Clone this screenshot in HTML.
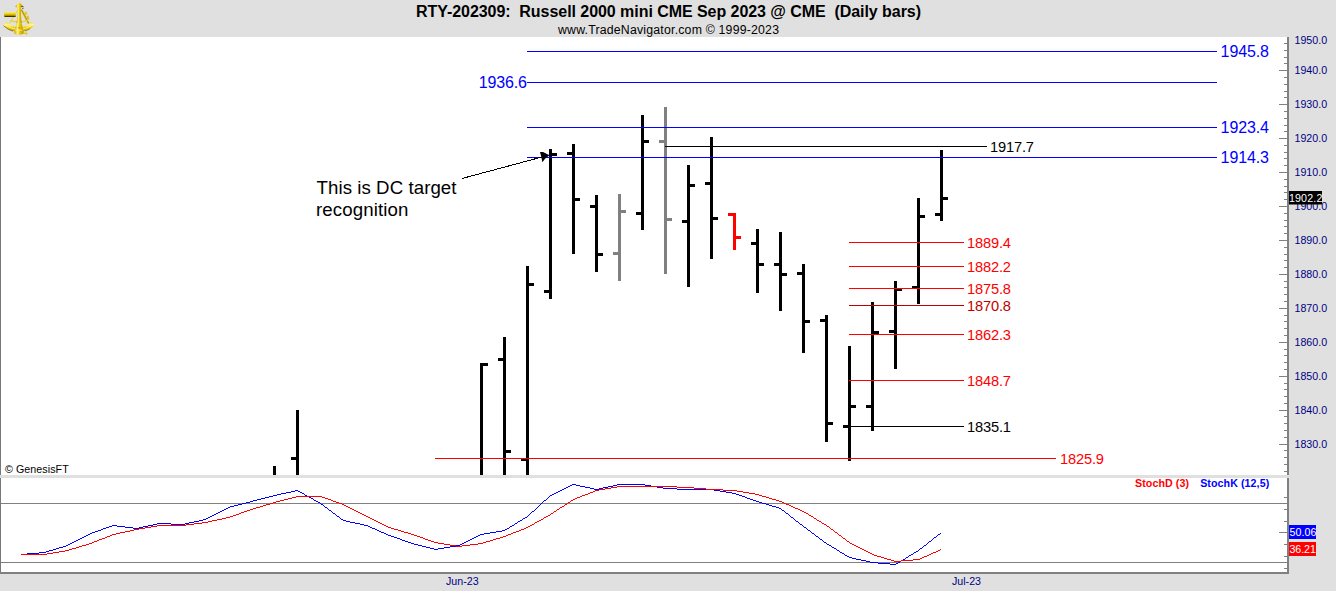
<!DOCTYPE html>
<html><head><meta charset="utf-8"><title>RTY-202309</title>
<style>
html,body{margin:0;padding:0;background:#E0E0E0;}
body{width:1336px;height:591px;overflow:hidden;position:relative;font-family:"Liberation Sans",sans-serif;}
svg{position:absolute;left:0;top:0;display:block;}
text{font-family:"Liberation Sans",sans-serif;}
</style></head><body>
<svg width="1336" height="591" viewBox="0 0 1336 591">
<defs>
<linearGradient id="gold" x1="0" y1="0" x2="1" y2="0"><stop offset="0" stop-color="#C8A000"/><stop offset="0.35" stop-color="#FFF27A"/><stop offset="0.6" stop-color="#E6C400"/><stop offset="1" stop-color="#B89000"/></linearGradient>
<linearGradient id="goldv" x1="0" y1="0" x2="0" y2="1"><stop offset="0" stop-color="#FFF27A"/><stop offset="0.45" stop-color="#E8C800"/><stop offset="1" stop-color="#8A6A00"/></linearGradient>
<linearGradient id="arcg" x1="0" y1="0" x2="0" y2="1"><stop offset="0" stop-color="#F2DA30"/><stop offset="0.3" stop-color="#FFF48A"/><stop offset="0.6" stop-color="#E8C800"/><stop offset="1" stop-color="#C09800"/></linearGradient>
</defs>
<rect x="0" y="0" width="1336" height="591" fill="#E0E0E0"/>
<rect x="1" y="37" width="1286" height="438" fill="#fff"/>
<rect x="1" y="478" width="1286" height="94" fill="#fff"/>
<rect x="0" y="37" width="1" height="537" fill="#787878"/>
<rect x="1287" y="37" width="2" height="537" fill="#808080"/>
<rect x="0" y="572" width="1289" height="2" fill="#808080"/>
<rect x="0" y="475" width="1289" height="3" fill="#E0E0E0"/>
<g id="icon">
<!-- frame legs -->
<path d="M17.8 10 L9.6 23.2" stroke="#EDD540" stroke-width="1.2" fill="none"/>
<path d="M21.2 9.5 L28.6 23.6" stroke="#D8B800" stroke-width="1.7" fill="none"/>
<path d="M21.6 9.6 L28.9 23.2" stroke="#6A5200" stroke-width="0.5" fill="none" opacity="0.7"/>
<!-- cross brace -->
<path d="M10.4 20.6 Q19 23.4 27.8 20.4" stroke="#EBD030" stroke-width="1.3" fill="none"/>
<!-- index mirror bits -->
<path d="M24.2 12.2 L26.8 11.6 L27.4 14.6 L25.4 15.2 Z" fill="#E6C818"/>
<path d="M26.6 16.2 L28.6 15.6 L29.2 19.4 L27.4 19.8 Z" fill="#E2C210"/>
<!-- arc band -->
<path d="M3.2 25.3 L6.7 21.9 A17.6 17.6 0 0 0 31.3 21.9 L34.9 25.3 A22.2 22.2 0 0 1 3.2 25.3 Z" fill="url(#arcg)"/>
<path d="M5 23.8 A20.5 20.5 0 0 0 33 23.8" stroke="#FFF6A0" stroke-width="1.1" fill="none" opacity="0.8"/>
<path d="M3.6 25.8 A22 22 0 0 0 13 31.2" stroke="#5A4400" stroke-width="0.8" fill="none" opacity="0.75"/>
<path d="M25 31.2 A22 22 0 0 0 30 28.8" stroke="#6A5200" stroke-width="0.7" fill="none" opacity="0.6"/>
<!-- telescope -->
<rect x="4.1" y="11.9" width="11.6" height="5" rx="0.8" fill="url(#goldv)"/>
<rect x="4.6" y="15.9" width="11" height="1" fill="#2A1E00" opacity="0.85"/>
<!-- vertical arm -->
<path d="M17.9 7 L20.7 7 L21.1 17 L21.7 23.6 L16.5 23.6 L17.3 17 Z" fill="url(#gold)"/>
<!-- finial -->
<path d="M19.4 2.8 Q21.4 3.6 22.8 6 Q22.6 7.8 19.2 7.9 Q15.6 7.8 15.4 6.2 Q16.8 3.8 19.4 2.8 Z" fill="url(#gold)"/>
<path d="M21 6.2 L23.6 6.2 L23.6 7 L21.4 7 Z M22 8 L24 7.8 L23.6 8.6 L22 8.8 Z" fill="#2A1E00" opacity="0.8"/>
<!-- base -->
<path d="M16.4 23.4 L21.8 23.4 L23.9 33.5 Q19 36.2 14.2 33.5 Z" fill="url(#gold)"/>
<path d="M15.2 30.2 L22.8 30.2" stroke="#FFF6B0" stroke-width="0.9" opacity="0.7"/>
<ellipse cx="19" cy="27.8" rx="1.2" ry="0.5" fill="#8A6A00" opacity="0.7"/>
<!-- knob -->
<rect x="23.6" y="32.6" width="2.8" height="1.3" fill="#E0C010"/>
<rect x="26" y="32" width="1.2" height="2.9" rx="0.4" fill="#E6C818"/>
</g>
<g shape-rendering="crispEdges">
<rect x="1" y="503" width="1286" height="1" fill="#808080"/>
<rect x="1" y="562" width="1286" height="1" fill="#808080"/>
<rect x="1284" y="43" width="3" height="1" fill="#808080"/><rect x="1284" y="50" width="3" height="1" fill="#808080"/><rect x="1284" y="57" width="3" height="1" fill="#808080"/><rect x="1284" y="63" width="3" height="1" fill="#808080"/><rect x="1279" y="70" width="8" height="1" fill="#808080"/><rect x="1284" y="77" width="3" height="1" fill="#808080"/><rect x="1284" y="84" width="3" height="1" fill="#808080"/><rect x="1284" y="91" width="3" height="1" fill="#808080"/><rect x="1284" y="97" width="3" height="1" fill="#808080"/><rect x="1279" y="104" width="8" height="1" fill="#808080"/><rect x="1284" y="111" width="3" height="1" fill="#808080"/><rect x="1284" y="118" width="3" height="1" fill="#808080"/><rect x="1284" y="125" width="3" height="1" fill="#808080"/><rect x="1284" y="131" width="3" height="1" fill="#808080"/><rect x="1279" y="138" width="8" height="1" fill="#808080"/><rect x="1284" y="145" width="3" height="1" fill="#808080"/><rect x="1284" y="152" width="3" height="1" fill="#808080"/><rect x="1284" y="158" width="3" height="1" fill="#808080"/><rect x="1284" y="165" width="3" height="1" fill="#808080"/><rect x="1279" y="172" width="8" height="1" fill="#808080"/><rect x="1284" y="179" width="3" height="1" fill="#808080"/><rect x="1284" y="186" width="3" height="1" fill="#808080"/><rect x="1284" y="192" width="3" height="1" fill="#808080"/><rect x="1284" y="199" width="3" height="1" fill="#808080"/><rect x="1279" y="206" width="8" height="1" fill="#808080"/><rect x="1284" y="213" width="3" height="1" fill="#808080"/><rect x="1284" y="220" width="3" height="1" fill="#808080"/><rect x="1284" y="226" width="3" height="1" fill="#808080"/><rect x="1284" y="233" width="3" height="1" fill="#808080"/><rect x="1279" y="240" width="8" height="1" fill="#808080"/><rect x="1284" y="247" width="3" height="1" fill="#808080"/><rect x="1284" y="254" width="3" height="1" fill="#808080"/><rect x="1284" y="260" width="3" height="1" fill="#808080"/><rect x="1284" y="267" width="3" height="1" fill="#808080"/><rect x="1279" y="274" width="8" height="1" fill="#808080"/><rect x="1284" y="281" width="3" height="1" fill="#808080"/><rect x="1284" y="287" width="3" height="1" fill="#808080"/><rect x="1284" y="294" width="3" height="1" fill="#808080"/><rect x="1284" y="301" width="3" height="1" fill="#808080"/><rect x="1279" y="308" width="8" height="1" fill="#808080"/><rect x="1284" y="315" width="3" height="1" fill="#808080"/><rect x="1284" y="321" width="3" height="1" fill="#808080"/><rect x="1284" y="328" width="3" height="1" fill="#808080"/><rect x="1284" y="335" width="3" height="1" fill="#808080"/><rect x="1279" y="342" width="8" height="1" fill="#808080"/><rect x="1284" y="349" width="3" height="1" fill="#808080"/><rect x="1284" y="355" width="3" height="1" fill="#808080"/><rect x="1284" y="362" width="3" height="1" fill="#808080"/><rect x="1284" y="369" width="3" height="1" fill="#808080"/><rect x="1279" y="376" width="8" height="1" fill="#808080"/><rect x="1284" y="383" width="3" height="1" fill="#808080"/><rect x="1284" y="389" width="3" height="1" fill="#808080"/><rect x="1284" y="396" width="3" height="1" fill="#808080"/><rect x="1284" y="403" width="3" height="1" fill="#808080"/><rect x="1279" y="410" width="8" height="1" fill="#808080"/><rect x="1284" y="416" width="3" height="1" fill="#808080"/><rect x="1284" y="423" width="3" height="1" fill="#808080"/><rect x="1284" y="430" width="3" height="1" fill="#808080"/><rect x="1284" y="437" width="3" height="1" fill="#808080"/><rect x="1279" y="444" width="8" height="1" fill="#808080"/><rect x="1284" y="450" width="3" height="1" fill="#808080"/><rect x="1284" y="457" width="3" height="1" fill="#808080"/><rect x="1284" y="464" width="3" height="1" fill="#808080"/><rect x="1284" y="471" width="3" height="1" fill="#808080"/>
<rect x="1284" y="497" width="3" height="1" fill="#808080"/><rect x="1284" y="509" width="3" height="1" fill="#808080"/><rect x="1284" y="521" width="3" height="1" fill="#808080"/><rect x="1279" y="532" width="8" height="1" fill="#808080"/><rect x="1284" y="544" width="3" height="1" fill="#808080"/><rect x="1284" y="556" width="3" height="1" fill="#808080"/><rect x="1284" y="568" width="3" height="1" fill="#808080"/>
<rect x="273" y="466" width="3" height="9" fill="#000"/><rect x="296" y="410" width="3" height="65" fill="#000"/><rect x="291" y="457" width="5" height="3" fill="#000"/><rect x="480" y="363" width="3" height="112" fill="#000"/><rect x="483" y="363" width="5" height="3" fill="#000"/><rect x="503" y="337" width="3" height="138" fill="#000"/><rect x="498" y="358" width="5" height="3" fill="#000"/><rect x="506" y="450" width="5" height="3" fill="#000"/><rect x="526" y="266" width="3" height="209" fill="#000"/><rect x="521" y="458" width="5" height="3" fill="#000"/><rect x="529" y="283" width="5" height="3" fill="#000"/><rect x="549" y="149" width="3" height="150" fill="#000"/><rect x="544" y="290" width="5" height="3" fill="#000"/><rect x="552" y="153" width="5" height="3" fill="#000"/><rect x="572" y="144" width="3" height="110" fill="#000"/><rect x="567" y="152" width="5" height="3" fill="#000"/><rect x="575" y="198" width="5" height="3" fill="#000"/><rect x="595" y="195" width="3" height="77" fill="#000"/><rect x="590" y="205" width="5" height="3" fill="#000"/><rect x="598" y="253" width="5" height="3" fill="#000"/><rect x="618" y="194" width="3" height="87" fill="#808080"/><rect x="613" y="252" width="5" height="3" fill="#808080"/><rect x="621" y="210" width="5" height="3" fill="#808080"/><rect x="641" y="115" width="3" height="115" fill="#000"/><rect x="636" y="212" width="5" height="3" fill="#000"/><rect x="644" y="140" width="5" height="3" fill="#000"/><rect x="664" y="107" width="3" height="167" fill="#808080"/><rect x="659" y="140" width="5" height="3" fill="#808080"/><rect x="667" y="218" width="5" height="3" fill="#808080"/><rect x="687" y="165" width="3" height="122" fill="#000"/><rect x="682" y="220" width="5" height="3" fill="#000"/><rect x="690" y="184" width="5" height="3" fill="#000"/><rect x="710" y="137" width="3" height="122" fill="#000"/><rect x="705" y="182" width="5" height="3" fill="#000"/><rect x="713" y="217" width="5" height="3" fill="#000"/><rect x="733" y="213" width="3" height="37" fill="#FF0000"/><rect x="728" y="213" width="5" height="3" fill="#FF0000"/><rect x="736" y="236" width="5" height="3" fill="#FF0000"/><rect x="756" y="229" width="3" height="64" fill="#000"/><rect x="751" y="242" width="5" height="3" fill="#000"/><rect x="759" y="263" width="5" height="3" fill="#000"/><rect x="779" y="232" width="3" height="79" fill="#000"/><rect x="774" y="263" width="5" height="3" fill="#000"/><rect x="782" y="273" width="5" height="3" fill="#000"/><rect x="802" y="264" width="3" height="89" fill="#000"/><rect x="797" y="272" width="5" height="3" fill="#000"/><rect x="805" y="320" width="5" height="3" fill="#000"/><rect x="825" y="315" width="3" height="127" fill="#000"/><rect x="820" y="319" width="5" height="3" fill="#000"/><rect x="828" y="422" width="5" height="3" fill="#000"/><rect x="848" y="346" width="3" height="115" fill="#000"/><rect x="843" y="425" width="5" height="3" fill="#000"/><rect x="851" y="405" width="5" height="3" fill="#000"/><rect x="871" y="302" width="3" height="129" fill="#000"/><rect x="866" y="405" width="5" height="3" fill="#000"/><rect x="874" y="331" width="5" height="3" fill="#000"/><rect x="894" y="281" width="3" height="88" fill="#000"/><rect x="889" y="330" width="5" height="3" fill="#000"/><rect x="897" y="288" width="5" height="3" fill="#000"/><rect x="917" y="198" width="3" height="106" fill="#000"/><rect x="912" y="286" width="5" height="3" fill="#000"/><rect x="920" y="215" width="5" height="3" fill="#000"/><rect x="940" y="150" width="3" height="71" fill="#000"/><rect x="935" y="213" width="5" height="3" fill="#000"/><rect x="943" y="197" width="5" height="3" fill="#000"/>
<rect x="527" y="51" width="690" height="1" fill="#0000FF"/><rect x="527" y="82" width="690" height="1" fill="#0000FF"/><rect x="527" y="127" width="690" height="1" fill="#0000FF"/><rect x="527" y="157" width="690" height="1" fill="#0000FF"/><rect x="849" y="242" width="115" height="1" fill="#FF0000"/><rect x="849" y="266" width="115" height="1" fill="#FF0000"/><rect x="849" y="288" width="115" height="1" fill="#FF0000"/><rect x="849" y="305" width="115" height="1" fill="#C00000"/><rect x="849" y="334" width="115" height="1" fill="#FF0000"/><rect x="849" y="380" width="115" height="1" fill="#FF0000"/><rect x="435" y="458" width="621" height="1" fill="#FF0000"/>
<rect x="665" y="146" width="322" height="1" fill="#000"/><rect x="848" y="426" width="116" height="1" fill="#000"/>
</g>
<path d="M21 554.5h6M27 553.5h12M39 552.5h7M46 551.5h3M49 550.5h4M53 549.5h3M56 548.5h3M59 547.5h4M63 546.5h3M66 545.5h2M68 544.5h2M70 543.5h2M72 542.5h2M74 541.5h2M76 540.5h2M78 539.5h2M80 538.5h2M82 537.5h2M84 536.5h2M86 535.5h2M88 534.5h2M90 533.5h2M92 532.5h3M95 531.5h3M98 530.5h3M101 529.5h2M103 528.5h3M106 527.5h3M109 526.5h3M112 525.5h5M117 526.5h8M125 527.5h8M133 528.5h6M139 527.5h4M143 526.5h5M148 525.5h5M153 524.5h4M157 523.5h14M171 524.5h14M185 523.5h4M189 522.5h5M194 521.5h5M199 520.5h4M203 519.5h3M206 518.5h2M208 517.5h2M210 516.5h2M212 515.5h2M214 514.5h2M216 513.5h2M218 512.5h2M220 511.5h2M222 510.5h2M224 509.5h2M226 508.5h2M228 507.5h2M230 506.5h4M234 505.5h4M238 504.5h4M242 503.5h4M246 502.5h4M250 501.5h3M253 500.5h4M257 499.5h4M261 498.5h4M265 497.5h4M269 496.5h4M273 495.5h4M277 494.5h4M281 493.5h5M286 492.5h5M291 491.5h4M295 490.5h3M298 491.5h2M300 492.5h2M302 493.5h2M304 494.5h1M305 495.5h2M307 496.5h2M309 497.5h2M311 498.5h2M313 499.5h1M314 500.5h2M316 501.5h2M318 502.5h2M320 503.5h1M321 504.5h2M323 505.5h1M324 506.5h1M325 507.5h2M327 508.5h1M328 509.5h1M329 510.5h2M331 511.5h1M332 512.5h1M333 513.5h2M335 514.5h1M336 515.5h1M337 516.5h2M339 517.5h1M340 518.5h1M341 519.5h2M343 520.5h3M346 521.5h4M350 522.5h5M355 523.5h5M360 524.5h4M364 525.5h4M368 526.5h2M370 527.5h2M372 528.5h3M375 529.5h2M377 530.5h2M379 531.5h2M381 532.5h3M384 533.5h2M386 534.5h2M388 535.5h3M391 536.5h3M394 537.5h3M397 538.5h3M400 539.5h2M402 540.5h3M405 541.5h3M408 542.5h3M411 543.5h3M414 544.5h4M418 545.5h4M422 546.5h4M426 547.5h4M430 548.5h4M434 549.5h4M438 548.5h6M444 547.5h6M450 546.5h6M456 545.5h4M460 544.5h2M462 543.5h2M464 542.5h2M466 541.5h2M468 540.5h2M470 539.5h2M472 538.5h2M474 537.5h2M476 536.5h2M478 535.5h2M480 534.5h4M484 533.5h6M490 532.5h6M496 531.5h6M502 530.5h3M505 529.5h2M507 528.5h2M509 527.5h1M510 526.5h2M512 525.5h2M514 524.5h1M515 523.5h2M517 522.5h1M518 521.5h2M520 520.5h2M522 519.5h1M523 518.5h2M525 517.5h2M527 516.5h1M528 515.5h1M529 514.5h1M530 513.5h1M531 512.5h1M532 511.5h2M534 510.5h1M535 509.5h1M536 508.5h1M537 507.5h1M538 506.5h1M539 505.5h1M540 504.5h1M541 503.5h1M542 502.5h1M543 501.5h1M544 500.5h2M546 499.5h1M547 498.5h1M548 497.5h1M549 496.5h1M550 495.5h2M552 494.5h2M554 493.5h2M556 492.5h2M558 491.5h2M560 490.5h2M562 489.5h2M564 488.5h2M566 487.5h2M568 486.5h2M570 485.5h2M572 484.5h4M576 485.5h4M580 486.5h5M585 487.5h5M590 488.5h4M594 489.5h5M599 488.5h4M603 487.5h5M608 486.5h5M613 485.5h4M617 484.5h28M645 485.5h6M651 486.5h6M657 487.5h6M663 488.5h14M677 489.5h37M714 490.5h6M720 491.5h6M726 492.5h6M732 493.5h4M736 494.5h3M739 495.5h3M742 496.5h3M745 497.5h2M747 498.5h3M750 499.5h3M753 500.5h3M756 501.5h3M759 502.5h3M762 503.5h4M766 504.5h3M769 505.5h3M772 506.5h4M776 507.5h3M779 508.5h2M781 509.5h1M782 510.5h2M784 511.5h1M785 512.5h1M786 513.5h2M788 514.5h1M789 515.5h1M790 516.5h1M791 517.5h2M793 518.5h1M794 519.5h1M795 520.5h1M796 521.5h2M798 522.5h1M799 523.5h1M800 524.5h2M802 525.5h1M803 526.5h1M804 527.5h2M806 528.5h1M807 529.5h1M808 530.5h2M810 531.5h1M811 532.5h1M812 533.5h2M814 534.5h1M815 535.5h1M816 536.5h2M818 537.5h1M819 538.5h1M820 539.5h2M822 540.5h1M823 541.5h1M824 542.5h2M826 543.5h1M827 544.5h2M829 545.5h2M831 546.5h1M832 547.5h2M834 548.5h2M836 549.5h1M837 550.5h2M839 551.5h1M840 552.5h2M842 553.5h2M844 554.5h1M845 555.5h2M847 556.5h2M849 557.5h3M852 558.5h4M856 559.5h5M861 560.5h5M866 561.5h4M870 562.5h8M878 563.5h12M890 564.5h6M896 563.5h2M898 562.5h2M900 561.5h1M901 560.5h2M903 559.5h2M905 558.5h1M906 557.5h2M908 556.5h1M909 555.5h2M911 554.5h2M913 553.5h1M914 552.5h2M916 551.5h2M918 550.5h1M919 549.5h1M920 548.5h2M922 547.5h1M923 546.5h1M924 545.5h2M926 544.5h1M927 543.5h1M928 542.5h1M929 541.5h2M931 540.5h1M932 539.5h1M933 538.5h1M934 537.5h2M936 536.5h1M937 535.5h1M938 534.5h2M940 533.5h1" fill="none" stroke="#0000FF" stroke-width="1" shape-rendering="crispEdges"/>
<path d="M21 554.5h26M47 553.5h6M53 552.5h6M59 551.5h6M65 550.5h4M69 549.5h3M72 548.5h4M76 547.5h3M79 546.5h3M82 545.5h4M86 544.5h3M89 543.5h3M92 542.5h2M94 541.5h3M97 540.5h2M99 539.5h3M102 538.5h3M105 537.5h2M107 536.5h3M110 535.5h2M112 534.5h4M116 533.5h4M120 532.5h5M125 531.5h5M130 530.5h4M134 529.5h5M139 528.5h6M145 527.5h6M151 526.5h6M157 525.5h29M186 524.5h8M194 523.5h8M202 522.5h6M208 521.5h4M212 520.5h5M217 519.5h5M222 518.5h4M226 517.5h4M230 516.5h3M233 515.5h3M236 514.5h3M239 513.5h2M241 512.5h3M244 511.5h3M247 510.5h3M250 509.5h3M253 508.5h3M256 507.5h4M260 506.5h3M263 505.5h3M266 504.5h4M270 503.5h3M273 502.5h3M276 501.5h4M280 500.5h4M284 499.5h4M288 498.5h4M292 497.5h4M296 496.5h26M322 497.5h3M325 498.5h3M328 499.5h3M331 500.5h2M333 501.5h3M336 502.5h3M339 503.5h3M342 504.5h2M344 505.5h2M346 506.5h2M348 507.5h2M350 508.5h2M352 509.5h2M354 510.5h2M356 511.5h2M358 512.5h2M360 513.5h2M362 514.5h2M364 515.5h2M366 516.5h2M368 517.5h2M370 518.5h2M372 519.5h2M374 520.5h2M376 521.5h2M378 522.5h2M380 523.5h2M382 524.5h2M384 525.5h2M386 526.5h2M388 527.5h3M391 528.5h3M394 529.5h4M398 530.5h3M401 531.5h3M404 532.5h4M408 533.5h3M411 534.5h3M414 535.5h3M417 536.5h3M420 537.5h3M423 538.5h2M425 539.5h3M428 540.5h3M431 541.5h3M434 542.5h4M438 543.5h6M444 544.5h6M450 545.5h6M456 546.5h6M462 545.5h8M470 544.5h8M478 543.5h5M483 542.5h3M486 541.5h4M490 540.5h3M493 539.5h3M496 538.5h4M500 537.5h3M503 536.5h3M506 535.5h2M508 534.5h3M511 533.5h2M513 532.5h3M516 531.5h3M519 530.5h2M521 529.5h3M524 528.5h2M526 527.5h2M528 526.5h2M530 525.5h2M532 524.5h2M534 523.5h1M535 522.5h2M537 521.5h2M539 520.5h2M541 519.5h2M543 518.5h1M544 517.5h2M546 516.5h2M548 515.5h2M550 514.5h1M551 513.5h2M553 512.5h1M554 511.5h2M556 510.5h1M557 509.5h2M559 508.5h1M560 507.5h2M562 506.5h2M564 505.5h1M565 504.5h2M567 503.5h1M568 502.5h2M570 501.5h1M571 500.5h2M573 499.5h2M575 498.5h2M577 497.5h3M580 496.5h2M582 495.5h3M585 494.5h3M588 493.5h2M590 492.5h3M593 491.5h2M595 490.5h4M599 489.5h6M605 488.5h6M611 487.5h6M617 486.5h60M677 487.5h17M694 488.5h12M706 489.5h17M723 490.5h14M737 491.5h6M743 492.5h6M749 493.5h6M755 494.5h4M759 495.5h3M762 496.5h4M766 497.5h3M769 498.5h3M772 499.5h4M776 500.5h3M779 501.5h3M782 502.5h2M784 503.5h2M786 504.5h3M789 505.5h2M791 506.5h2M793 507.5h2M795 508.5h3M798 509.5h2M800 510.5h2M802 511.5h2M804 512.5h2M806 513.5h2M808 514.5h1M809 515.5h2M811 516.5h2M813 517.5h1M814 518.5h2M816 519.5h1M817 520.5h2M819 521.5h2M821 522.5h1M822 523.5h2M824 524.5h2M826 525.5h1M827 526.5h2M829 527.5h1M830 528.5h1M831 529.5h2M833 530.5h1M834 531.5h1M835 532.5h2M837 533.5h1M838 534.5h1M839 535.5h2M841 536.5h1M842 537.5h1M843 538.5h2M845 539.5h1M846 540.5h1M847 541.5h2M849 542.5h1M850 543.5h2M852 544.5h2M854 545.5h2M856 546.5h2M858 547.5h2M860 548.5h2M862 549.5h2M864 550.5h2M866 551.5h2M868 552.5h2M870 553.5h2M872 554.5h2M874 555.5h3M877 556.5h4M881 557.5h3M884 558.5h3M887 559.5h4M891 560.5h3M894 561.5h7M901 560.5h12M913 559.5h7M920 558.5h2M922 557.5h2M924 556.5h3M927 555.5h2M929 554.5h2M931 553.5h2M933 552.5h3M936 551.5h2M938 550.5h2M940 549.5h1" fill="none" stroke="#FF0000" stroke-width="1" shape-rendering="crispEdges"/>
<line x1="462" y1="178.5" x2="542" y2="157" stroke="#000" stroke-width="1" shape-rendering="crispEdges"/>
<polygon points="540,152 543,152 549.5,155.3 545,158.8 542.4,162.2 541.4,157.2" fill="#000"/>
<text x="416" y="17.4" font-size="16" fill="#000" text-anchor="start" font-weight="bold" xml:space="preserve" textLength="505" lengthAdjust="spacing">RTY-202309:&#160; Russell 2000 mini CME Sep 2023 @ CME&#160; (Daily bars)</text>
<text x="558" y="33.8" font-size="12.3" fill="#000" text-anchor="start" font-weight="normal"  textLength="221" lengthAdjust="spacing">www.TradeNavigator.com © 1999-2023</text>
<text x="316.5" y="193.5" font-size="18.67" fill="#000" text-anchor="start" font-weight="normal"  textLength="140" lengthAdjust="spacing">This is DC target</text>
<text x="316" y="215.5" font-size="18.67" fill="#000" text-anchor="start" font-weight="normal"  textLength="92.5" lengthAdjust="spacing">recognition</text>
<text x="1220.6" y="57" font-size="16" fill="#0000FF" text-anchor="start" font-weight="normal"  textLength="48.4" lengthAdjust="spacing">1945.8</text>
<text x="1220.6" y="133" font-size="16" fill="#0000FF" text-anchor="start" font-weight="normal"  textLength="48.4" lengthAdjust="spacing">1923.4</text>
<text x="1220.6" y="163" font-size="16" fill="#0000FF" text-anchor="start" font-weight="normal"  textLength="48.4" lengthAdjust="spacing">1914.3</text>
<text x="478.7" y="88" font-size="16" fill="#0000FF" text-anchor="start" font-weight="normal"  textLength="48.3" lengthAdjust="spacing">1936.6</text>
<text x="990" y="151.7" font-size="14.67" fill="#000" text-anchor="start" font-weight="normal"  textLength="44" lengthAdjust="spacing">1917.7</text>
<text x="967" y="431.7" font-size="14.67" fill="#000" text-anchor="start" font-weight="normal"  textLength="44" lengthAdjust="spacing">1835.1</text>
<text x="967" y="247.7" font-size="14.67" fill="#FF0000" text-anchor="start" font-weight="normal"  textLength="44" lengthAdjust="spacing">1889.4</text>
<text x="967" y="271.7" font-size="14.67" fill="#FF0000" text-anchor="start" font-weight="normal"  textLength="44" lengthAdjust="spacing">1882.2</text>
<text x="967" y="293.7" font-size="14.67" fill="#FF0000" text-anchor="start" font-weight="normal"  textLength="44" lengthAdjust="spacing">1875.8</text>
<text x="967" y="310.7" font-size="14.67" fill="#C00000" text-anchor="start" font-weight="normal"  textLength="44" lengthAdjust="spacing">1870.8</text>
<text x="967" y="339.7" font-size="14.67" fill="#FF0000" text-anchor="start" font-weight="normal"  textLength="44" lengthAdjust="spacing">1862.3</text>
<text x="967" y="385.7" font-size="14.67" fill="#FF0000" text-anchor="start" font-weight="normal"  textLength="44" lengthAdjust="spacing">1848.7</text>
<text x="1060" y="463.7" font-size="14.67" fill="#FF0000" text-anchor="start" font-weight="normal"  textLength="44" lengthAdjust="spacing">1825.9</text>
<text x="1294.5" y="43.8" font-size="10.67" fill="#000080" text-anchor="start" font-weight="normal"  textLength="32.6" lengthAdjust="spacing">1950.0</text>
<text x="1294.5" y="74" font-size="10.67" fill="#000080" text-anchor="start" font-weight="normal"  textLength="32.6" lengthAdjust="spacing">1940.0</text>
<text x="1294.5" y="108" font-size="10.67" fill="#000080" text-anchor="start" font-weight="normal"  textLength="32.6" lengthAdjust="spacing">1930.0</text>
<text x="1294.5" y="142" font-size="10.67" fill="#000080" text-anchor="start" font-weight="normal"  textLength="32.6" lengthAdjust="spacing">1920.0</text>
<text x="1294.5" y="176" font-size="10.67" fill="#000080" text-anchor="start" font-weight="normal"  textLength="32.6" lengthAdjust="spacing">1910.0</text>
<text x="1294.5" y="210" font-size="10.67" fill="#000080" text-anchor="start" font-weight="normal"  textLength="32.6" lengthAdjust="spacing">1900.0</text>
<text x="1294.5" y="244" font-size="10.67" fill="#000080" text-anchor="start" font-weight="normal"  textLength="32.6" lengthAdjust="spacing">1890.0</text>
<text x="1294.5" y="278" font-size="10.67" fill="#000080" text-anchor="start" font-weight="normal"  textLength="32.6" lengthAdjust="spacing">1880.0</text>
<text x="1294.5" y="312" font-size="10.67" fill="#000080" text-anchor="start" font-weight="normal"  textLength="32.6" lengthAdjust="spacing">1870.0</text>
<text x="1294.5" y="346" font-size="10.67" fill="#000080" text-anchor="start" font-weight="normal"  textLength="32.6" lengthAdjust="spacing">1860.0</text>
<text x="1294.5" y="380" font-size="10.67" fill="#000080" text-anchor="start" font-weight="normal"  textLength="32.6" lengthAdjust="spacing">1850.0</text>
<text x="1294.5" y="414" font-size="10.67" fill="#000080" text-anchor="start" font-weight="normal"  textLength="32.6" lengthAdjust="spacing">1840.0</text>
<text x="1294.5" y="448" font-size="10.67" fill="#000080" text-anchor="start" font-weight="normal"  textLength="32.6" lengthAdjust="spacing">1830.0</text>
<rect x="1289" y="191" width="33" height="13.5" fill="#000"/>
<text x="1288.9" y="202" font-size="10.67" fill="#fff" text-anchor="start" font-weight="normal"  textLength="33.5" lengthAdjust="spacing">1902.2</text>
<rect x="1289" y="525" width="27" height="14" fill="#0000FF"/>
<text x="1289.5" y="536" font-size="10.67" fill="#fff" text-anchor="start" font-weight="normal"  textLength="27" lengthAdjust="spacing">50.06</text>
<rect x="1289" y="542" width="27" height="14" fill="#FF0000"/>
<text x="1289.5" y="553" font-size="10.67" fill="#fff" text-anchor="start" font-weight="normal"  textLength="26.4" lengthAdjust="spacing">36.21</text>
<text x="1135" y="487.2" font-size="10.67" fill="#FF0000" text-anchor="start" font-weight="bold"  textLength="54" lengthAdjust="spacing">StochD (3)</text>
<text x="1200.2" y="487.2" font-size="10.67" fill="#0000FF" text-anchor="start" font-weight="bold"  textLength="69" lengthAdjust="spacing">StochK (12,5)</text>
<text x="5" y="473.2" font-size="10.67" fill="#000" text-anchor="start" font-weight="normal"  textLength="63.7" lengthAdjust="spacing">© GenesisFT</text>
<text x="446" y="585" font-size="10.67" fill="#000080" text-anchor="start" font-weight="normal" >Jun-23</text>
<text x="952" y="585" font-size="10.67" fill="#000080" text-anchor="start" font-weight="normal" >Jul-23</text>
</svg>
</body></html>
